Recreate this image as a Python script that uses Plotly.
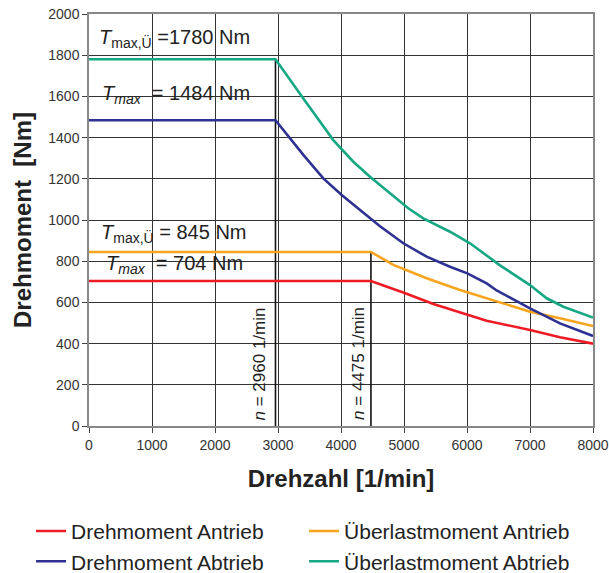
import plotly.graph_objects as go

# ---- data ----
red_x = [0, 4475, 4830, 5000, 5466, 6005, 6312, 7000, 7476, 8000]
red_y = [704, 704, 665, 647, 592, 539, 511, 466, 431, 400]
orange_x = [0, 4475, 4830, 5360, 5889, 6365, 7000, 7476, 8000]
orange_y = [845, 845, 782, 717, 660, 615, 555, 523, 485]
blue_x = [0, 2960, 3402, 3719, 4011, 4302, 4619, 4989, 5360, 5730, 6005, 6312, 6471, 7000, 7476, 8000]
blue_y = [1484, 1484, 1316, 1202, 1121, 1049, 970, 887, 822, 773, 741, 692, 658, 571, 498, 437]
green_x = [0, 2960, 3402, 3878, 4196, 4460, 4778, 5068, 5306, 5730, 6048, 6259, 6524, 7000, 7265, 7529, 8000]
green_y = [1780, 1780, 1590, 1388, 1283, 1210, 1130, 1057, 1008, 943, 887, 838, 780, 684, 620, 579, 526]

series_names = ["Drehmoment Antrieb", "Überlastmoment Antrieb", "Drehmoment Abtrieb", "Überlastmoment Abtrieb"]
series_colors = ["#ED1C24", "#F7A51E", "#2E3192", "#17A883"]

n_corner = [2960, 4475]
n_top = [1780, 845]
t_values = [1780, 1484, 845, 704]

x_ticks = [0, 1000, 2000, 3000, 4000, 5000, 6000, 7000, 8000]
y_ticks = list(range(0, 2001, 200))

fig = go.Figure()

# vertical marker lines at corner speeds
for n, top in zip(n_corner, n_top):
    fig.add_trace(go.Scatter(x=[n, n], y=[0, top], mode="lines",
                             line=dict(color="#111111", width=1.6),
                             showlegend=False, hoverinfo="skip"))

for xs, ys, name, col in zip([red_x, orange_x, blue_x, green_x],
                             [red_y, orange_y, blue_y, green_y],
                             series_names, series_colors):
    fig.add_trace(go.Scatter(x=xs, y=ys, mode="lines", name=name,
                             line=dict(color=col, width=2.6)))

font_main = "Liberation Sans, Arial, sans-serif"

# T annotations
ann_texts = [
    "<i>T</i><sub>max,Ü</sub> =%d Nm" % t_values[0],
    "<i>T</i><sub><i>max</i></sub>  = %d Nm" % t_values[1],
    "<i>T</i><sub>max,Ü</sub> = %d Nm" % t_values[2],
    "<i>T</i><sub><i>max</i></sub>  = %d Nm" % t_values[3],
]
ann_x = [127, 175, 159, 238]
ann_y = [1883, 1610, 935, 786]
annotations = []
for txt, ax_, ay_ in zip(ann_texts, ann_x, ann_y):
    annotations.append(dict(x=ax_, y=ay_, xref="x", yref="y", text=txt,
                            showarrow=False, xanchor="left", yanchor="middle",
                            font=dict(family=font_main, size=20, color="#222222")))

for n, xs in zip(n_corner, [-4, -1]):
    annotations.append(dict(x=n, y=0, xref="x", yref="y",
                            text="<i>n</i> = %d 1/min" % n, textangle=-90,
                            showarrow=False, xanchor="right", yanchor="bottom",
                            xshift=xs, yshift=4,
                            font=dict(family=font_main, size=17, color="#222222")))

fig.update_layout(
    width=609, height=573,
    margin=dict(l=89, r=16, t=14, b=147, autoexpand=False),
    paper_bgcolor="white", plot_bgcolor="white",
    font=dict(family=font_main, color="#222222"),
    annotations=annotations,
    showlegend=True,
    legend=dict(orientation="h", x=-0.115, y=-0.206, xanchor="left", yanchor="top",
                entrywidth=228, entrywidthmode="pixels", itemwidth=30,
                font=dict(family=font_main, size=21, color="#222222"),
                tracegroupgap=0, traceorder="normal"),
)

fig.update_xaxes(range=[0, 8000], tickvals=x_ticks, ticks="outside", ticklen=5,
                 tickcolor="#444444", showgrid=True, gridcolor="#333333", gridwidth=1,
                 showline=True, linecolor="#888888", linewidth=1.5, mirror=True,
                 zeroline=False, automargin=False, ticklabeloverflow="allow",
                 tickfont=dict(family=font_main, size=14, color="#333333"),
                 title=dict(text="<b>Drehzahl [1/min]</b>", standoff=19,
                            font=dict(family=font_main, size=24, color="#222222")))
fig.update_yaxes(range=[0, 2000], tickvals=y_ticks, ticks="outside", ticklen=5,
                 tickcolor="#444444", showgrid=True, gridcolor="#333333", gridwidth=1,
                 showline=True, linecolor="#888888", linewidth=1.5, mirror=True,
                 zeroline=False, automargin=False, ticklabeloverflow="allow",
                 tickfont=dict(family=font_main, size=14, color="#333333"),
                 title=dict(text="<b>Drehmoment  [Nm]</b>", standoff=10,
                            font=dict(family=font_main, size=24, color="#222222")))

# remove the default 8px page margin so the figure fills the window exactly
fig.write_html("out.html", config={"displayModeBar": False},
               post_script="document.body.style.margin='0';document.body.style.padding='0';")
